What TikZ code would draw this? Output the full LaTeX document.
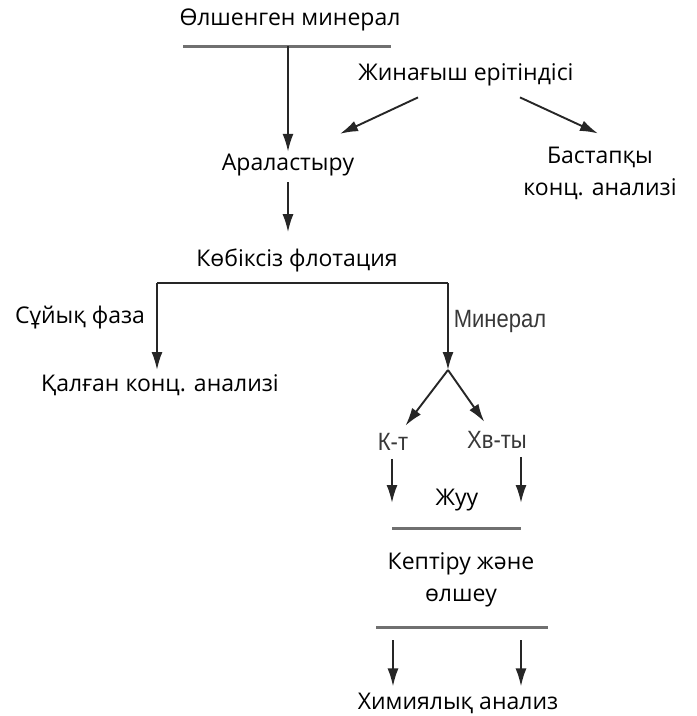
\documentclass[tikz,border=0pt]{standalone}
\usepackage{fontspec}
\setmainfont{Open Sans}
\newfontfamily\narrowfont[FakeStretch=0.88]{Liberation Sans}
\usetikzlibrary{arrows.meta}
\definecolor{barGray}{HTML}{707070}
\definecolor{labGray}{HTML}{383838}

\begin{document}
\begin{tikzpicture}[x=1pt, y=-1pt,
stepbox/.style = {inner sep=2pt, font=\fontsize{23}{32}\selectfont, align=center},
tag/.style = {inner sep=2pt, text=labGray, font=\narrowfont\fontsize{25}{30}\selectfont},
bar/.style = {draw=barGray, line width=3pt},
link/.style = {draw=black!85, line width=1.9pt},
>={Latex[length=18pt,width=11pt]}
]
\useasboundingbox (0,0) rectangle (697,716);

    % nodes
    \node [stepbox] (mineral) at (290,20) {Өлшенген минерал};
    \node [stepbox] (solution) at (466,75) {Жинағыш ерітіндісі};
    \node [stepbox] (mix) at (288,165) {Араластыру};
    \node [stepbox] (initial) at (600,173) {Бастапқы\\конц. анализі};
    \node [stepbox] (flot) at (297,260) {Көбіксіз флотация};
    \node [stepbox] (liquid) at (80,318) {Сұйық фаза};
    \node [tag] (minlab) at (500,321) {Минерал};
    \node [stepbox] (residual) at (160,385) {Қалған конц. анализі};
    \node [tag] (kt) at (393,442) {К-т};
    \node [tag] (hv) at (497,440) {Хв-ты};
    \node [stepbox] (wash) at (457,500) {Жуу};
    \node [stepbox] (dry) at (461,580) {Кептіру және\\өлшеу};
    \node [stepbox] (chem) at (458,703) {Химиялық анализ};

    \coordinate (topL) at (183,46);
    \coordinate (topR) at (391,46);
    \coordinate (flotL) at (157,283);
    \coordinate (flotR) at (448,283);
    \coordinate (fork) at (448,370);
    \coordinate (washL) at (392,528);
    \coordinate (washR) at (521,528);
    \coordinate (dryL) at (376,627);
    \coordinate (dryR) at (548,627);

    % bars
    \draw [bar] (topL) -- (topR);
    \draw [bar] (washL) -- (washR);
    \draw [bar] (dryL) -- (dryR);

    % arrows
    \draw [link, ->] (mix.north |- topL) -- (mix.north);
    \draw [link, ->] ([xshift=-48pt,yshift=-9pt]solution.south) -- ([xshift=52pt,yshift=18pt]mix.north);
    \draw [link, ->] ([xshift=54pt,yshift=-9pt]solution.south) -- ([xshift=-2pt,yshift=11pt]initial.north);
    \draw [link, ->, shorten <=4pt, shorten >=14pt] (mix.south) -- (mix.south |- flot.north);

    \draw [link] (flotL) -- (flotR);
    \draw [link, ->] (flotL) -- (flotL |- fork);
    \draw [link, ->] (flotR) -- (fork);
    \draw [link, ->, shorten >=7pt] (fork) -- (kt);
    \draw [link, ->, shorten >=9pt] (fork) -- (hv);

    \draw [link, ->, shorten <=6pt, shorten >=25pt] (washL |- kt.south) -- (washL);
    \draw [link, ->, shorten <=6pt, shorten >=25pt] (washR |- hv.south) -- (washR);
    \draw [link, ->, shorten <=13pt, shorten >=4pt] ([xshift=-65pt]chem.north |- dryL) -- ([xshift=-65pt]chem.north);
    \draw [link, ->, shorten <=13pt, shorten >=4pt] ([xshift=63pt]chem.north |- dryR) -- ([xshift=63pt]chem.north);

\end{tikzpicture}
\end{document}
